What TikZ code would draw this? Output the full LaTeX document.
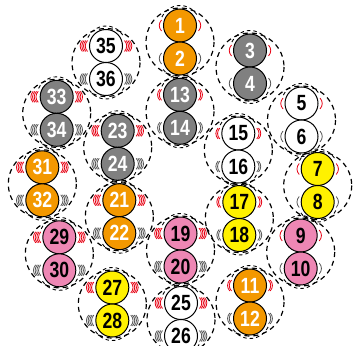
\documentclass[tikz,border=0pt]{standalone}
\usepackage{fontspec}
\newfontfamily\numfont{Liberation Sans}[FakeStretch=0.8]
\definecolor{ballorange}{RGB}{243,152,0}
\definecolor{ballgray}{RGB}{128,128,128}
\definecolor{ballyellow}{RGB}{255,241,0}
\definecolor{ballpink}{RGB}{238,135,180}
\definecolor{coilred}{RGB}{230,0,18}
\definecolor{coilgray}{RGB}{85,85,85}
\tikzset{
  ball/.style={circle, draw=black, line width=1pt, minimum size=33pt, inner sep=0pt,
    font=\numfont\bfseries\fontsize{22}{22}\selectfont},
  pairring/.style={draw=black, line width=1.2pt, dash pattern=on 5pt off 4pt},
  halo/.style={draw=black, line width=0.9pt, dash pattern=on 3.5pt off 3pt},
  coil/.style={line width=0.8pt},
}
\begin{document}
\begin{tikzpicture}[x=1pt,y=-1pt]
\useasboundingbox (0,0) rectangle (355,345);
\def\pairlist{180/42/1/ballorange/white/1,
250/67/3/ballgray/white/1,
301.5/120/5/white/black/1,
317.7/185.5/7/ballyellow/black/1,
300.7/252/9/ballpink/black/1,
250/302/11/ballorange/white/2,
180/111.3/13/ballgray/white/2,
238.3/150/15/white/black/2,
239.3/218.5/17/ballyellow/black/2,
180.5/250/19/ballpink/black/4,
119.3/216.7/21/ballorange/white/4,
117.7/147.3/23/ballgray/white/4,
181/319.5/25/white/black/4,
112.3/304/27/ballyellow/black/4,
59.3/253.8/29/ballpink/black/4,
42.3/183.8/31/ballorange/white/4,
56.7/113.3/33/ballgray/white/4,
106/62.5/35/white/black/4}
% pair rings
\foreach \x/\y/\a/\fc/\tc/\n in \pairlist {
  \draw[pairring] (\x,\y) circle[radius=34];
}
% halos and coils
\foreach \x/\y/\a/\fc/\tc/\n in \pairlist {
  \pgfmathsetmacro\yt{\y-16.5}
  \pgfmathsetmacro\yb{\y+16.5}
  \draw[halo] (\x,\yt) ++(205:20) arc[start angle=205, end angle=335, radius=20];
  \draw[halo] (\x,\yb) ++(25:20) arc[start angle=25, end angle=155, radius=20];
  \pgfmathsetmacro\sp{(\n>1)?1.7:0}
  \foreach \i in {1,...,\n} {
    \pgfmathsetmacro\xl{\x-18.5-(\i-1)*\sp}
    \pgfmathsetmacro\xr{\x+18.5+(\i-1)*\sp}
    \draw[coil,coilred] (\xl,\yt-5.5) .. controls (\xl-3,\yt-2) and (\xl-3,\yt+2) .. (\xl,\yt+5.5);
    \draw[coil,coilred] (\xr,\yt-5.5) .. controls (\xr+3,\yt-2) and (\xr+3,\yt+2) .. (\xr,\yt+5.5);
    \draw[coil,coilgray] (\xl,\yb-5.5) .. controls (\xl-3,\yb-2) and (\xl-3,\yb+2) .. (\xl,\yb+5.5);
    \draw[coil,coilgray] (\xr,\yb-5.5) .. controls (\xr+3,\yb-2) and (\xr+3,\yb+2) .. (\xr,\yb+5.5);
  }
}
% balls
\foreach \x/\y/\a/\fc/\tc/\n in \pairlist {
  \pgfmathtruncatemacro\b{\a+1}
  \node[ball, fill=\fc, text=\tc] (b\a) at (\x,{\y-16.5}) {\a};
  \node[ball, fill=\fc, text=\tc] (b\b) at (\x,{\y+16.5}) {\b};
}
\end{tikzpicture}
\end{document}
